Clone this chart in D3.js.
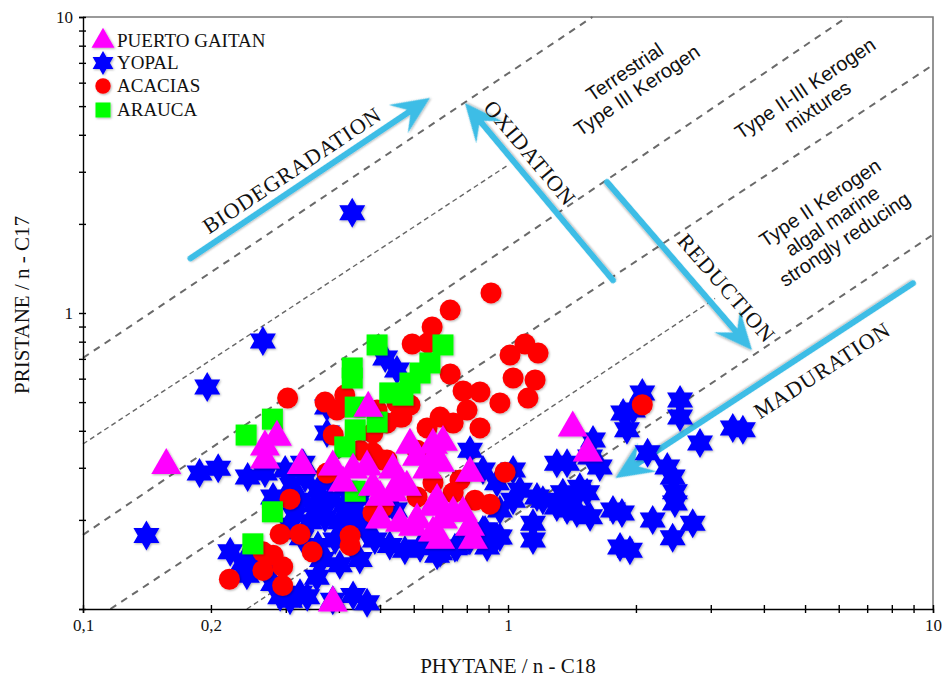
<!DOCTYPE html>
<meta charset="utf-8">
<style>
body { margin: 0; background: #fff; }
svg text { font-family: "Liberation Serif", "Times New Roman", serif; fill: #111; }
.kerogen { font-family: "Liberation Sans", Arial, sans-serif; font-size: 20px; }
.process { font-size: 22px; letter-spacing: 1px; }
.axis text { font-size: 17px; }
.axis path, .axis line { stroke: #000; stroke-width: 1.4; }
</style>
<body>
<div id="chart"></div>
<script src="https://d3js.org/d3.v7.min.js"></script>
<script>

// Pristane/n-C17 vs Phytane/n-C18, each point [phytane, pristane]
var puertoGaitan = [
  [0.157,0.306],[0.268,0.353],[0.286,0.381],[0.268,0.319],[0.327,0.306],[0.387,0.302],
  [0.432,0.295],[0.466,0.302],[0.409,0.267],[0.481,0.258],[0.500,0.239],[0.469,0.477],
  [0.588,0.358],[0.611,0.326],[0.666,0.358],[0.703,0.366],[0.666,0.319],[0.692,0.311],
  [0.645,0.295],[0.536,0.295],[0.557,0.269],[0.578,0.258],[0.536,0.247],[0.814,0.288],
  [0.500,0.200],[0.557,0.195],[0.611,0.200],[0.666,0.221],[0.703,0.200],[0.743,0.211],
  [0.784,0.211],[0.814,0.189],[0.666,0.181],[0.692,0.171],[0.827,0.171],[0.598,0.189],
  [0.681,0.233],[1.42,0.409],[1.54,0.337],[0.387,0.105]
];

var yopal = [
  [0.430,2.18],[0.265,0.805],[0.196,0.562],[0.141,0.177],
  [0.188,0.288],[0.208,0.299],[0.244,0.279],[0.268,0.288],[0.329,0.311],[0.299,0.295],[0.280,0.239],
  [0.222,0.156],[0.238,0.143],[0.254,0.151],[0.243,0.130],[0.280,0.122],[0.291,0.110],[0.307,0.107],
  [0.324,0.113],[0.337,0.110],[0.355,0.128],[0.387,0.107],[0.432,0.111],[0.466,0.105],[0.275,0.147],
  [0.310,0.262],[0.333,0.277],[0.357,0.252],[0.381,0.273],[0.413,0.256],[0.324,0.233],[0.351,0.225],
  [0.381,0.233],[0.413,0.225],[0.448,0.237],[0.315,0.208],[0.342,0.197],[0.371,0.203],[0.402,0.197],
  [0.437,0.208],[0.327,0.174],[0.357,0.164],[0.392,0.171],[0.425,0.188],[0.461,0.185],[0.307,0.192],
  [0.365,0.147],[0.402,0.141],[0.448,0.147],[0.486,0.171],[0.527,0.164],[0.572,0.158],[0.621,0.161],
  [0.681,0.152],[0.750,0.161],[0.814,0.171],[0.883,0.185],[0.942,0.175],[0.500,0.216],[0.542,0.216],
  [0.375,0.481],[0.375,0.393],[0.514,0.705],[0.548,0.642],[0.814,0.344],
  [0.873,0.295],[0.942,0.267],[1.028,0.295],[1.067,0.252],[1.170,0.239],[0.957,0.216],[0.893,0.162],
  [1.028,0.233],[1.145,0.195],[1.145,0.171],[1.208,0.233],[1.303,0.311],[1.303,0.221],[1.346,0.247],
  [1.422,0.228],[1.535,0.247],[1.452,0.211],[1.377,0.216],[1.560,0.205],[1.644,0.302],[1.560,0.326],
  [1.585,0.372],[1.377,0.311],[1.476,0.258],[1.766,0.216],[1.854,0.211],[1.835,0.162],[1.936,0.158],
  [1.866,0.459],[1.905,0.403],[1.968,0.470],[2.07,0.537],[2.13,0.337],[2.19,0.200],[2.37,0.302],
  [2.44,0.279],[2.47,0.249],[2.47,0.228],[2.72,0.195],[2.44,0.174],[2.54,0.508],[2.54,0.445],
  [2.83,0.364],[3.38,0.409],[3.57,0.403],[0.692,0.155],[0.759,0.162],[0.621,0.162],[0.873,0.185],
  [0.957,0.175]
];

var acacias = [
  [0.912,1.169],[0.731,1.023],[0.663,0.897],[0.595,0.786],[0.648,0.793],[1.011,0.721],[1.096,0.786],
  [1.177,0.732],[0.731,0.622],[0.303,0.516],[0.371,0.500],[0.396,0.470],[0.413,0.528],[0.388,0.387],
  [0.784,0.545],[0.859,0.541],[0.957,0.497],[1.028,0.603],[1.158,0.594],[1.114,0.516],[0.801,0.470],
  [0.859,0.409],[0.692,0.445],[0.645,0.409],[0.557,0.445],[0.519,0.425],[0.481,0.393],[0.448,0.344],
  [0.508,0.319],[0.611,0.344],[0.743,0.425],[0.984,0.290],[0.907,0.226],[0.836,0.233],[0.611,0.239],
  [0.666,0.267],[0.743,0.247],[0.771,0.273],[0.508,0.221],[0.481,0.211],[0.425,0.177],[0.425,0.164],
  [0.291,0.179],[0.324,0.179],[0.346,0.156],[0.265,0.156],[0.280,0.152],[0.265,0.135],[0.295,0.139],
  [0.295,0.120],[0.221,0.126],[0.307,0.235],[0.375,0.288],[0.481,0.337],[0.519,0.319],[0.563,0.445],
  [0.548,0.497],[0.492,0.470],[2.07,0.490],[0.588,0.489]
];

var arauca = [
  [0.242,0.387],[0.279,0.438],[0.279,0.213],[0.251,0.166],[0.492,0.780],[0.430,0.652],[0.430,0.603],
  [0.703,0.780],[0.655,0.678],[0.621,0.627],[0.527,0.537],[0.566,0.528],[0.588,0.580],[0.437,0.481],
  [0.437,0.403],[0.413,0.353],[0.492,0.428],[0.437,0.250]
];

// zone boundaries (dashed), endpoints in data units
var thickLines = [
  [[0.1,0.705],[1.58,10]],
  [[0.1,0.178],[6.28,10]],
  [[0.116,0.1],[10,6.89]],
  [[0.487,0.1],[10,1.84]]
];
var thinLines = [
  [[0.1,0.361],[1.0,3.16]],
  [[0.243,0.1],[3.07,1.12]]
];

// process arrows: [tail, head]
var arrows = [
  [[0.179,1.53],[0.655,5.33]],
  [[1.766,1.29],[0.792,5.12]],
  [[1.71,2.77],[3.75,0.75]],
  [[8.97,1.26],[1.79,0.277]]
];
var arrowLabels = [
  {text: "BIODEGRADATION", at: [0.310,3.04], angle: -33.7},
  {text: "OXIDATION", at: [1.127,3.47], angle: 50},
  {text: "REDUCTION", at: [3.27,1.215], angle: 49},
  {text: "MADURATION", at: [5.48,0.641], angle: -33}
];
var kerogenLabels = [
  {lines: ["Terrestrial", "Type III Kerogen"], at: [1.88,6.52]},
  {lines: ["Type II-III Kerogen", "mixtures"], at: [5.0,5.75]},
  {lines: ["Type II Kerogen", "algal marine", "strongly reducing"], at: [5.42,2.36]}
];

var xTickValues = [0.1,0.2,0.3,0.4,0.5,0.6,0.7,0.8,0.9,1,2,3,4,5,6,7,8,9,10];
var xTickLabels = {0.1: "0,1", 0.2: "0,2", 1: "1", 10: "10"};
var yTickValues = [0.1,0.2,0.3,0.4,0.5,0.6,0.7,0.8,0.9,1,2,3,4,5,6,7,8,9,10];
var yTickLabels = {1: "1", 10: "10"};

var series = [
  {name: "YOPAL", data: yopal, color: "#0000ff", shape: "star"},
  {name: "ACACIAS", data: acacias, color: "#ff0000", shape: "circle"},
  {name: "ARAUCA", data: arauca, color: "#00ff00", shape: "square"},
  {name: "PUERTO GAITAN", data: puertoGaitan, color: "#ff00ff", shape: "triangle"}
];
var legendOrder = ["PUERTO GAITAN", "YOPAL", "ACACIAS", "ARAUCA"];

var width = 942, height = 679;
var arrowColor = "#3cbde6";

var svg = d3.select("#chart").append("svg")
  .attr("width", width)
  .attr("height", height);

var defs = svg.append("defs");
defs.append("filter").attr("id", "shadow")
  .attr("x", "-30%").attr("y", "-30%").attr("width", "160%").attr("height", "160%")
  .append("feDropShadow")
  .attr("dx", 1).attr("dy", 1).attr("stdDeviation", 1)
  .attr("flood-color", "#000").attr("flood-opacity", 0.3);

var x = d3.scaleLog().domain([0.1, 10]).range([83, 933]);
var y = d3.scaleLog().domain([0.1, 10]).range([609, 17]);

function shapePath(shape, s) {
  if (shape == "star") {
    var R = s, r = s / Math.sqrt(3), pts = [];
    for (var k = 0; k < 12; k++) {
      var a = -Math.PI / 2 + k * Math.PI / 6, rr = k % 2 == 0 ? R : r;
      pts.push([rr * Math.cos(a), rr * Math.sin(a)]);
    }
    return "M" + pts.join("L") + "Z";
  }
  if (shape == "triangle") {
    var h = s * Math.sqrt(3) / 2;
    return "M0," + (-2 * h / 3) + "L" + (s / 2) + "," + (h / 3) + "L" + (-s / 2) + "," + (h / 3) + "Z";
  }
  if (shape == "square") {
    return "M" + (-s / 2) + "," + (-s / 2) + "h" + s + "v" + s + "h" + (-s) + "Z";
  }
  return d3.symbol(d3.symbolCircle, Math.PI * s * s)();
}
var plotSize = {star: 15, triangle: 30, square: 21, circle: 10.5};
var legendSize = {star: 12, triangle: 23, square: 15, circle: 7.7};

// frame: grey top/right
svg.append("path")
  .attr("d", "M" + x(0.1) + "," + y(10) + "H" + x(10) + "V" + y(0.1))
  .attr("fill", "none")
  .attr("stroke", "#7a7a7a")
  .attr("stroke-width", 1.6);

// dashed zone lines
svg.append("g").selectAll("line.thick")
  .data(thickLines)
  .enter().append("line")
  .attr("x1", d => x(d[0][0])).attr("y1", d => y(d[0][1]))
  .attr("x2", d => x(d[1][0])).attr("y2", d => y(d[1][1]))
  .attr("stroke", "#6a6a6a").attr("stroke-width", 2)
  .attr("stroke-dasharray", "7,6");

svg.append("g").selectAll("line.thin")
  .data(thinLines)
  .enter().append("line")
  .attr("x1", d => x(d[0][0])).attr("y1", d => y(d[0][1]))
  .attr("x2", d => x(d[1][0])).attr("y2", d => y(d[1][1]))
  .attr("stroke", "#666").attr("stroke-width", 1.4)
  .attr("stroke-dasharray", "5,3.5");

// axes
var xAxis = svg.append("g")
  .attr("class", "axis")
  .attr("transform", `translate(0,${y(0.1)})`)
  .call(d3.axisBottom(x).tickValues(xTickValues).tickSizeOuter(0).tickSize(4).tickPadding(6)
    .tickFormat(d => xTickLabels[d] || ""));
xAxis.selectAll(".tick line").attr("y1", -4).attr("y2", 4);

var yAxis = svg.append("g")
  .attr("class", "axis")
  .attr("transform", `translate(${x(0.1)},0)`)
  .call(d3.axisLeft(y).tickValues(yTickValues).tickSizeOuter(0).tickSize(4).tickPadding(6)
    .tickFormat(d => yTickLabels[d] || ""));
yAxis.selectAll(".tick line").attr("x1", -4).attr("x2", 3);

// axis titles
svg.append("text")
  .attr("x", 508).attr("y", 673)
  .attr("text-anchor", "middle")
  .style("font-size", "21px")
  .text("PHYTANE / n - C18");

svg.append("text")
  .attr("transform", "translate(29,305) rotate(-90)")
  .attr("text-anchor", "middle")
  .style("font-size", "21px")
  .text("PRISTANE / n - C17");

// kerogen zone labels
kerogenLabels.forEach(function(k) {
  var t = svg.append("text")
    .attr("class", "kerogen")
    .attr("text-anchor", "middle")
    .attr("transform", `translate(${x(k.at[0])},${y(k.at[1])}) rotate(-34)`);
  k.lines.forEach(function(line, i) {
    t.append("tspan").attr("x", 0).attr("y", i * 22 + 7).text(line);
  });
});

// process arrows
arrows.forEach(function(a) {
  var x0 = x(a[0][0]), y0 = y(a[0][1]), x1 = x(a[1][0]), y1 = y(a[1][1]);
  var len = Math.hypot(x1 - x0, y1 - y0);
  var ang = Math.atan2(y1 - y0, x1 - x0) * 180 / Math.PI;
  var g = svg.append("g")
    .attr("transform", `translate(${x0},${y0}) rotate(${ang})`)
    .attr("filter", "url(#shadow)");
  g.append("line")
    .attr("x1", 0).attr("y1", 0).attr("x2", len - 20).attr("y2", 0)
    .attr("stroke", arrowColor).attr("stroke-width", 6).attr("stroke-linecap", "round");
  g.append("path")
    .attr("d", `M${len},0L${len - 38},-17L${len - 23},0L${len - 38},17Z`)
    .attr("fill", arrowColor);
});

arrowLabels.forEach(function(l) {
  svg.append("text")
    .attr("class", "process")
    .attr("text-anchor", "middle")
    .attr("dy", "0.35em")
    .attr("transform", `translate(${x(l.at[0])},${y(l.at[1])}) rotate(${l.angle})`)
    .text(l.text);
});

// markers
series.forEach(function(s) {
  svg.append("g")
    .attr("filter", "url(#shadow)")
    .selectAll("path")
    .data(s.data)
    .enter().append("path")
    .attr("transform", d => `translate(${x(d[0])},${y(d[1])})`)
    .attr("d", shapePath(s.shape, plotSize[s.shape]))
    .attr("fill", s.color);
});

// legend
var legend = svg.append("g").attr("transform", "translate(103,0)");
legendOrder.forEach(function(name, i) {
  var s = series.find(d => d.name == name);
  var cy = [41, 63, 86, 110][i];
  legend.append("path")
    .attr("transform", `translate(0,${cy})`)
    .attr("d", shapePath(s.shape, legendSize[s.shape]))
    .attr("fill", s.color)
    .attr("filter", "url(#shadow)");
  legend.append("text")
    .attr("x", 14).attr("y", cy + 6)
    .style("font-size", "19px")
    .text(name);
});

</script>
</body>
